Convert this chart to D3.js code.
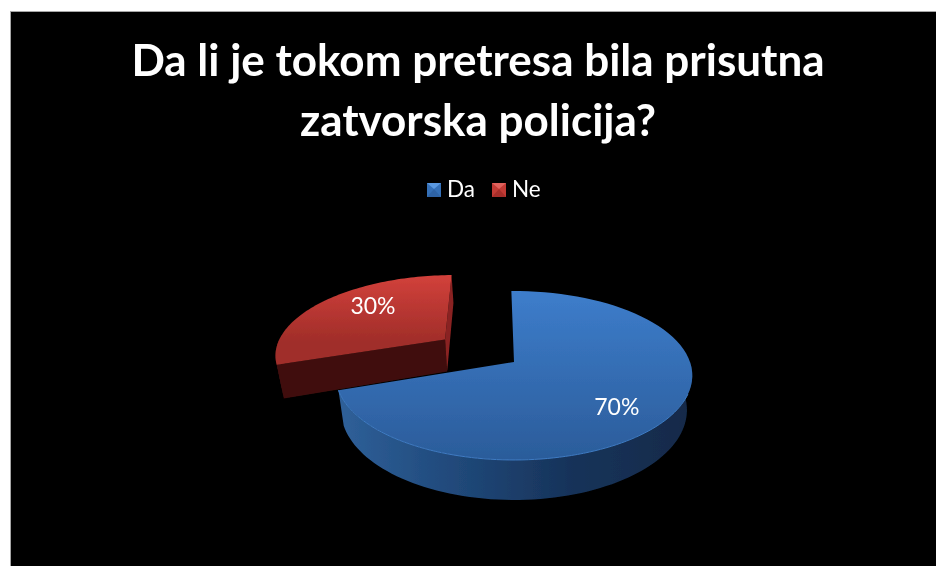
<!DOCTYPE html>
<html>
<head>
<meta charset="utf-8">
<script src="https://cdn.jsdelivr.net/npm/d3@7"></script>
<style>
  html, body { margin: 0; padding: 0; background: #fff; }
  svg { display: block; }
  text { font-family: Lato, "Open Sans", sans-serif; fill: #fff; }
</style>
</head>
<body>
<div id="chart"></div>
<script>
// data
let titleLines = ["Da li je tokom pretresa bila prisutna", "zatvorska policija?"];
let categories = ["Da", "Ne"];
let values = [70, 30];

let width = 936;
let height = 566;

let svg = d3.select("#chart").append("svg")
    .attr("width", width)
    .attr("height", height);

let defs = svg.append("defs");

// reference is a soft screenshot
defs.append("filter").attr("id", "soft")
    .append("feGaussianBlur").attr("stdDeviation", 0.55);

function gradient(id, stops, horizontal) {
    let g = defs.append("linearGradient").attr("id", id)
        .attr("x1", 0).attr("y1", 0)
        .attr("x2", horizontal ? 1 : 0).attr("y2", horizontal ? 0 : 1);
    stops.forEach(function(s) {
        g.append("stop").attr("offset", s[0]).attr("stop-color", s[1]);
    });
}
gradient("blueTop", [[0, "#3d7dcb"], [1, "#2b5c9a"]]);
gradient("redTop", [[0, "#d2413b"], [0.75, "#a02d29"], [1, "#a02d29"]]);
gradient("blueSide", [[0, "#2f6099"], [0.3, "#214b7d"], [0.65, "#17335a"], [1, "#132a49"]], true);

// background panel
svg.append("rect")
    .attr("x", 10.5).attr("y", 11.5)
    .attr("width", width).attr("height", height)
    .attr("fill", "#000")
    .attr("stroke", "#a6a6a6");

let root = svg.append("g").attr("filter", "url(#soft)");

// title
root.selectAll(".title").data(titleLines).enter().append("text")
    .attr("class", "title")
    .attr("x", 478)
    .attr("y", function(d, i) { return 76 + i * 60; })
    .attr("text-anchor", "middle")
    .attr("font-size", 44)
    .attr("font-weight", 700)
    .text(function(d) { return d; });

// tilted pie: unit circle plane -> screen, with some perspective
let cx = 514, cy = 362, rx = 176, ry = 82.3, persp = 0.16, depth = 33.6;

function project(u, v, z) {
    let s = 1 / (1 - persp * v);
    let shrink = 1 - 0.03 * z;
    return [cx + rx * u * s * shrink, cy + ry * v * s + depth * z * s];
}

let startDeg = -1;
let arcs = d3.pie().sort(null)
    .startAngle(startDeg * Math.PI / 180)
    .endAngle((startDeg + 360) * Math.PI / 180)(values);

let line = d3.line();

function explodeOf(d, amount) {
    let mid = (d.startAngle + d.endAngle) / 2;
    return [amount * Math.sin(mid), -amount * Math.cos(mid)];
}

function rim(r, off, z, a0, a1) {
    let n = 80;
    return d3.range(n + 1).map(function(i) {
        let a = a0 + (a1 - a0) * i / n;
        return project(off[0] + r * Math.sin(a), off[1] - r * Math.cos(a), z);
    });
}

let explode = [0, 0.5];
let sliceR = [1, 0.985];
let fills = ["url(#blueTop)", "url(#redTop)"];
let sideFills = ["url(#blueSide)", "#40110f"];

// red slice goes first, blue covers it at the front
[1, 0].forEach(function(i) {
    let d = arcs[i];
    let r = sliceR[i];
    let off = explodeOf(d, explode[i]);
    let g = root.append("g").attr("class", "slice " + categories[i]);
    let apexTop = project(off[0], off[1], 0);
    let apexBot = project(off[0], off[1], 1);
    let a0 = d.startAngle, a1 = d.endAngle;

    // outer wall, only the part turned to the viewer
    let w0 = Math.max(a0, Math.PI / 2), w1 = Math.min(a1, Math.PI * 1.5);
    if (w1 > w0) {
        let top = rim(r, off, 0, w0, w1);
        let bot = rim(r, off, 1, w0, w1).reverse();
        g.append("path")
            .attr("d", line(top.concat(bot)) + "Z")
            .attr("fill", sideFills[i]);
    }

    if (i === 1) {
        // cut faces of the pulled out slice: dark front one, thin sliver on the right
        let cA = rim(r, off, 0, a0, a0)[0];
        let cAb = rim(r, off, 1, a0, a0)[0];
        g.append("path")
            .attr("d", line([cA, apexTop, apexBot, cAb]) + "Z")
            .attr("fill", "#40110f");
        let cB = rim(r, off, 0, a1, a1)[0];
        let cBb = rim(r, off, 1, a1, a1)[0];
        g.append("path")
            .attr("d", line([apexTop, cB, cBb, apexBot]) + "Z")
            .attr("fill", "#8a2320");
    }

    // top face
    g.append("path")
        .attr("d", line([apexTop].concat(rim(r, off, 0, a0, a1))) + "Z")
        .attr("fill", fills[i]);

    if (i === 0) {
        // thin light rim along the front edge
        g.append("path")
            .attr("d", line(rim(r, off, 0, Math.PI * 0.62, a1)))
            .attr("fill", "none")
            .attr("stroke", "#3f7cc4")
            .attr("stroke-width", 1);
    }
});

// percent labels
let labelR = [0.73, 0.6];
let labelShift = [[-10, 8], [3, -9]];
root.selectAll(".pct").data(arcs).enter().append("text")
    .attr("class", "pct")
    .attr("text-anchor", "middle")
    .attr("font-size", 23)
    .attr("transform", function(d, i) {
        let off = explodeOf(d, explode[i]);
        let mid = (d.startAngle + d.endAngle) / 2;
        let p = project(off[0] + labelR[i] * Math.sin(mid), off[1] - labelR[i] * Math.cos(mid), 0);
        return "translate(" + (p[0] + labelShift[i][0]) + "," + (p[1] + labelShift[i][1] + 8) + ")";
    })
    .text(function(d) { return d.value + "%"; });

// legend
let legendColors = [["#3570b8", "#5a98e0", "#2f64a6"], ["#c23a35", "#e0625c", "#a62e2a"]];
let legendX = d3.scalePoint().domain(categories).range([427, 492]);
let legend = root.selectAll(".legend").data(categories).enter().append("g")
    .attr("class", "legend")
    .attr("transform", function(d) { return "translate(" + legendX(d) + ",183)"; });

legend.append("rect").attr("width", 14).attr("height", 14)
    .attr("fill", function(d, i) { return legendColors[i][0]; });
// bevel on the swatch
legend.append("path").attr("d", "M0,0H14L7,6Z")
    .attr("fill", function(d, i) { return legendColors[i][1]; });
legend.append("path").attr("d", "M0,14H14L7,6Z")
    .attr("fill", function(d, i) { return legendColors[i][2]; });
legend.append("text")
    .attr("x", 20).attr("y", 13.5)
    .attr("font-size", 22.5)
    .text(function(d) { return d; });
</script>
</body>
</html>
